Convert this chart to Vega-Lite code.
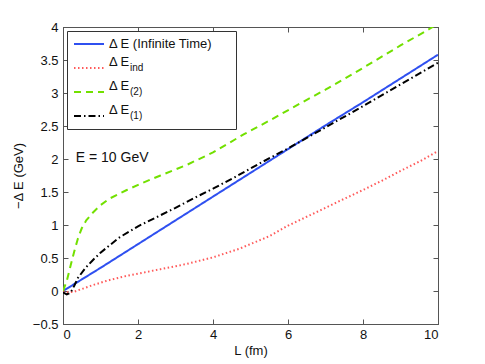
{
  "$schema": "https://vega.github.io/schema/vega-lite/v6.json",
  "width": 375,
  "height": 297,
  "autosize": {"type": "none"},
  "padding": {"left": 63, "top": 27, "right": 47, "bottom": 40},
  "background": "white",
  "config": {
    "font": "Liberation Sans",
    "view": {"stroke": "#555", "strokeWidth": 1},
    "axis": {
      "grid": false,
      "domainColor": "#555",
      "tickColor": "#555",
      "labelColor": "#111",
      "labelFontSize": 13,
      "titleFontSize": 13,
      "titleFontWeight": "normal",
      "titleColor": "#111",
      "tickSize": -5
    },
    "legend": {
      "orient": "none",
      "legendX": 4,
      "legendY": 4,
      "padding": 1,
      "symbolType": "stroke",
      "symbolSize": 900,
      "symbolStrokeWidth": 2,
      "symbolOffset": 5,
      "labelFontSize": 13,
      "labelColor": "#111",
      "labelOffset": 4,
      "rowPadding": 0,
      "clipHeight": 24
    }
  },
  "data": {
    "values": [
      {"series": "inf", "L": 0, "dE": 0.0},
      {"series": "inf", "L": 1, "dE": 0.35},
      {"series": "inf", "L": 2, "dE": 0.71},
      {"series": "inf", "L": 3, "dE": 1.07},
      {"series": "inf", "L": 4, "dE": 1.43},
      {"series": "inf", "L": 5, "dE": 1.79},
      {"series": "inf", "L": 6, "dE": 2.15},
      {"series": "inf", "L": 7, "dE": 2.51},
      {"series": "inf", "L": 8, "dE": 2.86},
      {"series": "inf", "L": 9, "dE": 3.22},
      {"series": "inf", "L": 10, "dE": 3.58},

      {"series": "ind", "L": 0, "dE": 0.0},
      {"series": "ind", "L": 0.15, "dE": -0.02},
      {"series": "ind", "L": 0.3, "dE": -0.01},
      {"series": "ind", "L": 0.5, "dE": 0.03},
      {"series": "ind", "L": 0.8, "dE": 0.09},
      {"series": "ind", "L": 1.2, "dE": 0.16},
      {"series": "ind", "L": 1.7, "dE": 0.23},
      {"series": "ind", "L": 2.6, "dE": 0.33},
      {"series": "ind", "L": 3.3, "dE": 0.41},
      {"series": "ind", "L": 4, "dE": 0.51},
      {"series": "ind", "L": 4.7, "dE": 0.64},
      {"series": "ind", "L": 5.5, "dE": 0.83},
      {"series": "ind", "L": 6, "dE": 0.99},
      {"series": "ind", "L": 7, "dE": 1.26},
      {"series": "ind", "L": 7.4, "dE": 1.37},
      {"series": "ind", "L": 8, "dE": 1.53},
      {"series": "ind", "L": 8.5, "dE": 1.67},
      {"series": "ind", "L": 9, "dE": 1.82},
      {"series": "ind", "L": 9.5, "dE": 1.96},
      {"series": "ind", "L": 10, "dE": 2.12},

      {"series": "2", "L": 0, "dE": 0.0},
      {"series": "2", "L": 0.1, "dE": 0.15},
      {"series": "2", "L": 0.2, "dE": 0.38},
      {"series": "2", "L": 0.3, "dE": 0.6},
      {"series": "2", "L": 0.4, "dE": 0.8},
      {"series": "2", "L": 0.5, "dE": 0.95},
      {"series": "2", "L": 0.62, "dE": 1.07},
      {"series": "2", "L": 0.8, "dE": 1.19},
      {"series": "2", "L": 1.0, "dE": 1.3},
      {"series": "2", "L": 1.24, "dE": 1.4},
      {"series": "2", "L": 1.7, "dE": 1.53},
      {"series": "2", "L": 2.13, "dE": 1.64},
      {"series": "2", "L": 2.6, "dE": 1.75},
      {"series": "2", "L": 3.3, "dE": 1.91},
      {"series": "2", "L": 4, "dE": 2.1},
      {"series": "2", "L": 4.84, "dE": 2.38},
      {"series": "2", "L": 5.5, "dE": 2.58},
      {"series": "2", "L": 6.35, "dE": 2.85},
      {"series": "2", "L": 7, "dE": 3.05},
      {"series": "2", "L": 8, "dE": 3.38},
      {"series": "2", "L": 9, "dE": 3.72},
      {"series": "2", "L": 9.77, "dE": 3.97},
      {"series": "2", "L": 10, "dE": 4.05},

      {"series": "1", "L": 0, "dE": -0.02},
      {"series": "1", "L": 0.1, "dE": -0.05},
      {"series": "1", "L": 0.2, "dE": -0.03},
      {"series": "1", "L": 0.3, "dE": 0.08},
      {"series": "1", "L": 0.4, "dE": 0.2},
      {"series": "1", "L": 0.6, "dE": 0.35},
      {"series": "1", "L": 0.8, "dE": 0.47},
      {"series": "1", "L": 1.0, "dE": 0.58},
      {"series": "1", "L": 1.5, "dE": 0.81},
      {"series": "1", "L": 2, "dE": 0.98},
      {"series": "1", "L": 2.5, "dE": 1.12},
      {"series": "1", "L": 3, "dE": 1.26},
      {"series": "1", "L": 3.5, "dE": 1.41},
      {"series": "1", "L": 4, "dE": 1.55},
      {"series": "1", "L": 4.6, "dE": 1.73},
      {"series": "1", "L": 5.3, "dE": 1.95},
      {"series": "1", "L": 6, "dE": 2.16},
      {"series": "1", "L": 7, "dE": 2.48},
      {"series": "1", "L": 8, "dE": 2.8},
      {"series": "1", "L": 9, "dE": 3.13},
      {"series": "1", "L": 10, "dE": 3.46}
    ]
  },
  "layer": [
    {
      "mark": {"type": "line", "clip": true, "strokeWidth": 2},
      "encoding": {
        "x": {
          "field": "L", "type": "quantitative",
          "scale": {"domain": [0, 10], "nice": false, "zero": false},
          "axis": {"values": [0, 2, 4, 6, 8, 10], "format": "d", "title": "L (fm)", "labelPadding": 9, "titlePadding": 3}
        },
        "y": {
          "field": "dE", "type": "quantitative",
          "scale": {"domain": [-0.5, 4], "nice": false, "zero": false},
          "axis": {"values": [-0.5, 0, 0.5, 1, 1.5, 2, 2.5, 3, 3.5, 4], "format": "~g", "title": "−Δ E (GeV)", "labelPadding": 10, "titlePadding": 7}
        },
        "color": {
          "field": "series", "type": "nominal",
          "scale": {"domain": ["inf", "ind", "2", "1"], "range": ["#2f50f0", "#ff5a5a", "#72e000", "#000000"]},
          "legend": {
            "title": null,
            "strokeColor": "#333",
            "fillColor": "white",
            "labelExpr": "datum.value == 'inf' ? 'Δ E (Infinite Time)\u2002\u2002\u2002\u2009\u200B' : 'Δ E'",
            "encode": {"labels": {"update": {"dy": {"signal": "datum.value == 'inf' ? 0 : -6"}}}}
          }
        },
        "strokeDash": {
          "field": "series", "type": "nominal",
          "scale": {"domain": ["inf", "ind", "2", "1"], "range": [[1, 0], [1.5, 2.5], [7, 5], [7, 3, 1.5, 3]]},
          "legend": {
            "title": null,
            "strokeColor": "#333",
            "fillColor": "white",
            "labelExpr": "datum.value == 'inf' ? 'Δ E (Infinite Time)\u2002\u2002\u2002\u2009\u200B' : 'Δ E'",
            "encode": {"labels": {"update": {"dy": {"signal": "datum.value == 'inf' ? 0 : -6"}}}}
          }
        }
      }
    },
    {
      "data": {"values": [{"note": "E = 10 GeV"}]},
      "mark": {"type": "text", "align": "left", "baseline": "middle", "fontSize": 14, "color": "#111"},
      "encoding": {
        "text": {"field": "note"},
        "x": {"datum": 0.34, "type": "quantitative", "axis": {"orient": "top", "values": [0, 2, 4, 6, 8, 10], "labels": false, "title": null}},
        "y": {"datum": 2.02, "type": "quantitative", "axis": {"orient": "right", "values": [-0.5, 0, 0.5, 1, 1.5, 2, 2.5, 3, 3.5, 4], "labels": false, "title": null}}
      }
    },
    {
      "data": {"values": [{"sub": "none"}, {"sub": "ind"}, {"sub": "(2)"}, {"sub": "(1)"}]},
      "mark": {"type": "point", "opacity": 0},
      "encoding": {
        "shape": {
          "field": "sub", "type": "nominal",
          "scale": {"domain": ["none", "ind", "(2)", "(1)"]},
          "legend": {
            "title": null,
            "symbolType": "stroke",
            "symbolOpacity": 0,
            "symbolStrokeWidth": 2,
            "labelFontSize": 10,
            "labelOffset": 25,
            "labelExpr": "datum.value == 'none' ? '' : datum.value",
            "encode": {"labels": {"update": {"dy": {"value": 3}}}}
          }
        }
      }
    }
  ],
  "resolve": {"axis": {"x": "independent", "y": "independent"}}
}
